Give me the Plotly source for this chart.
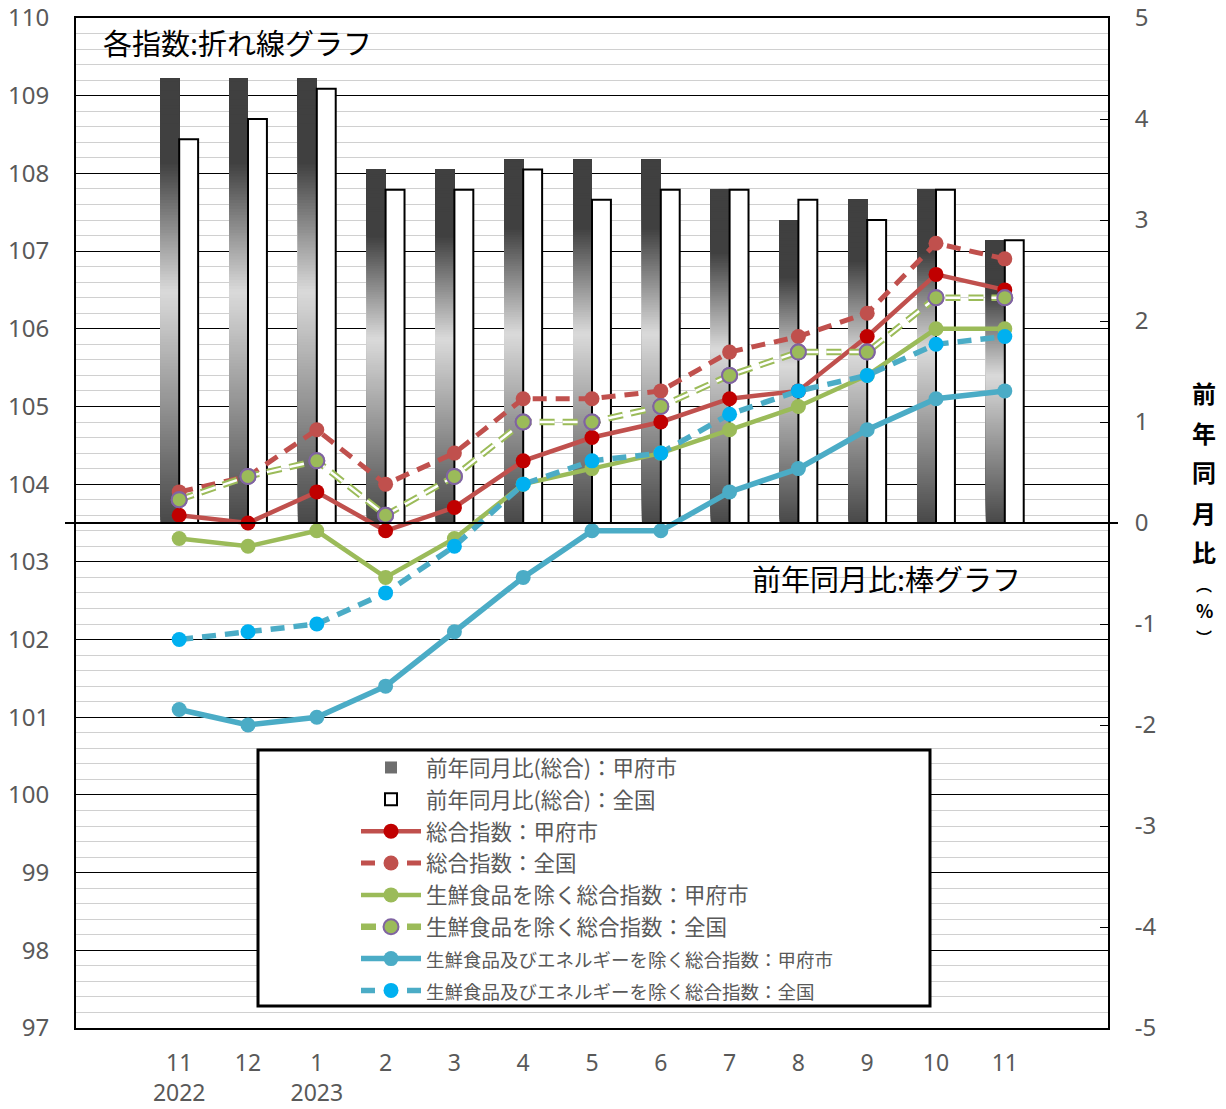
import plotly.graph_objects as go

# ---------------- data ----------------
months = ["11", "12", "1", "2", "3", "4", "5", "6", "7", "8", "9", "10", "11"]
years = ["2022", "", "2023", "", "", "", "", "", "", "", "", "", ""]

kofu_yoy = [4.4, 4.4, 4.4, 3.5, 3.5, 3.6, 3.6, 3.6, 3.3, 3.0, 3.2, 3.3, 2.8]
national_yoy = [3.8, 4.0, 4.3, 3.3, 3.3, 3.5, 3.2, 3.3, 3.3, 3.2, 3.0, 3.3, 2.8]

total_kofu = [103.6, 103.5, 103.9, 103.4, 103.7, 104.3, 104.6, 104.8, 105.1, 105.2, 105.9, 106.7, 106.5]
total_nat = [103.9, 104.1, 104.7, 104.0, 104.4, 105.1, 105.1, 105.2, 105.7, 105.9, 106.2, 107.1, 106.9]
exfresh_kofu = [103.3, 103.2, 103.4, 102.8, 103.3, 104.0, 104.2, 104.4, 104.7, 105.0, 105.4, 106.0, 106.0]
exfresh_nat = [103.8, 104.1, 104.3, 103.6, 104.1, 104.8, 104.8, 105.0, 105.4, 105.7, 105.7, 106.4, 106.4]
exfe_kofu = [101.1, 100.9, 101.0, 101.4, 102.1, 102.8, 103.4, 103.4, 103.9, 104.2, 104.7, 105.1, 105.2]
exfe_nat = [102.0, 102.1, 102.2, 102.6, 103.2, 104.0, 104.3, 104.4, 104.9, 105.2, 105.4, 105.8, 105.9]

right_ticks = [-5, -4, -3, -2, -1, 0, 1, 2, 3, 4, 5]
right_ticktext = ["-5", "-4", "-3", "-2", "-1", "0", "1", "2", "3", "4", "5"]

names = [
    "前年同月比(総合)：甲府市",
    "前年同月比(総合)：全国",
    "総合指数：甲府市",
    "総合指数：全国",
    "生鮮食品を除く総合指数：甲府市",
    "生鮮食品を除く総合指数：全国",
    "<span style='font-size:18.5px'>生鮮食品及びエネルギーを除く総合指数：甲府市</span>",
    "<span style='font-size:18.5px'>生鮮食品及びエネルギーを除く総合指数：全国</span>",
]
right_title_chars = ["前", "年", "同", "月", "比", "︵", "%", "︶"]

# ---------------- figure ----------------
x = list(range(len(months)))
ticktext = [m + ("<br>" + y if y else "") for m, y in zip(months, years)]

JP = "Noto Sans CJK JP"
NUM = "Noto Sans"
GRAY = "#595959"

fig = go.Figure()

# gradient bars (Kofu) built from overlapping bar segments
N = 150
def shade(t):
    # t: 0 bottom -> 1 top
    pts = [(0.0, 72), (0.52, 218), (0.81, 64), (1.0, 64)]
    for (t0, c0), (t1, c1) in zip(pts[:-1], pts[1:]):
        if t0 <= t <= t1:
            c = c0 + (c1 - c0) * (t - t0) / (t1 - t0)
            return int(round(c))
    return 64

bw = 0.275
for i in range(N):
    t = (i + 0.5) / N
    c = shade(t)
    fig.add_trace(go.Bar(
        x=x, y=[v * (1 - i / N) for v in kofu_yoy], base=[v * i / N for v in kofu_yoy],
        width=bw, offset=-bw, yaxis="y",
        marker=dict(color=f"rgb({c},{c},{c})", line=dict(width=0)),
        name=names[0], showlegend=(i == 20), legendgroup="g0", legendrank=1,
        hoverinfo="skip",
    ))

fig.add_trace(go.Bar(
    x=x, y=national_yoy, width=bw, offset=0, yaxis="y",
    marker=dict(color="white", line=dict(color="black", width=2)),
    name=names[1], legendgroup="g1", legendrank=2,
))

def add_line(yv, name, lcolor, lwidth, dash, mcolor, mline=None, rank=0, grp=""):
    fig.add_trace(go.Scatter(
        x=x, y=yv, yaxis="y2", mode="lines+markers", name=name,
        line=dict(color=lcolor, width=lwidth, dash=dash),
        marker=dict(color=mcolor, size=15,
                    line=dict(color=mline or mcolor, width=2 if mline else 0)),
        legendgroup=grp, legendrank=rank,
    ))

add_line(total_kofu, names[2], "#c0504d", 4.5, "solid", "#c00000", rank=3, grp="g2")
add_line(total_nat, names[3], "#c0504d", 5, "14px,9px", "#c0504d", rank=4, grp="g3")
add_line(exfresh_kofu, names[4], "#9bbb59", 4.5, "solid", "#9bbb59", rank=5, grp="g4")

# hollow dashed green line (outer + inner white)
fig.add_trace(go.Scatter(
    x=x, y=exfresh_nat, yaxis="y2", mode="lines+markers", name=names[5],
    line=dict(color="#9bbb59", width=6.5, dash="15px,8px"),
    marker=dict(color="#9bbb59", size=15, line=dict(color="#8064a2", width=2)),
    legendgroup="g5", legendrank=6,
))
fig.add_trace(go.Scatter(
    x=x, y=exfresh_nat, yaxis="y2", mode="lines", showlegend=False,
    line=dict(color="white", width=2.5, dash="15px,8px"), hoverinfo="skip",
    legendgroup="g5",
))
fig.add_trace(go.Scatter(
    x=x, y=exfresh_nat, yaxis="y2", mode="markers", showlegend=False,
    marker=dict(color="#9bbb59", size=15, line=dict(color="#8064a2", width=2)),
    hoverinfo="skip", legendgroup="g5",
))

add_line(exfe_kofu, names[6], "#4bacc6", 5.5, "solid", "#4bacc6", rank=7, grp="g6")
add_line(exfe_nat, names[7], "#4bacc6", 5.5, "14px,9px", "#00b0f0", rank=8, grp="g7")

# ---------------- layout ----------------
# page body has an 8px margin, so the figure is drawn at (8, 8)
OFF = 8
W, H = 1226 - OFF, 1109 - OFF
px0, px1, py0, py1 = 76, 1108, 18, 1028   # plot area in window pixels
def pxx(v):
    return (v - px0) / (px1 - px0)
def pyy(v):
    return (py1 - v) / (py1 - py0)

annotations = [
    dict(text="各指数:折れ線グラフ", xref="paper", yref="paper",
         x=pxx(101), y=pyy(42), xanchor="left", yanchor="middle",
         showarrow=False, font=dict(family=JP, size=29, color="black")),
    dict(text="前年同月比:棒グラフ", xref="paper", yref="paper",
         x=pxx(750), y=pyy(578), xanchor="left", yanchor="middle",
         showarrow=False, font=dict(family=JP, size=29, color="black")),
]
title_y = [392, 432, 472, 512, 551, 584, 610, 637]
title_size = [24, 24, 24, 24, 24, 16, 18, 16]
for ch, yy, sz in zip(right_title_chars, title_y, title_size):
    annotations.append(dict(
        text=f"<b>{ch}</b>", xref="paper", yref="paper",
        x=pxx(1204), y=pyy(yy), xanchor="center", yanchor="middle",
        showarrow=False, font=dict(family=JP, size=sz, color="black")))

fig.update_layout(
    width=W, height=H,
    margin=dict(l=px0 - OFF, r=W - (px1 - OFF), t=py0 - OFF, b=H - (py1 - OFF), autoexpand=False),
    paper_bgcolor="white", plot_bgcolor="white",
    barmode="overlay",
    showlegend=True,
    xaxis=dict(
        range=[-1.5, 13.5], tickvals=x, ticktext=ticktext, automargin=False,
        tickfont=dict(family=NUM, size=23, color=GRAY),
        showgrid=False, zeroline=False, showline=True, linecolor="black",
        linewidth=2, mirror=True, ticks="", ticklabelstandoff=13,
    ),
    yaxis=dict(
        side="right", range=[-5, 5], tickvals=right_ticks, ticktext=right_ticktext,
        showgrid=False, zeroline=False, automargin=False, ticklabeloverflow="allow",
        ticks="inside", ticklen=8, tickcolor="black", tickwidth=1,
        tickfont=dict(family=NUM, size=24, color=GRAY),
        showline=True, linecolor="black", linewidth=2, ticklabelstandoff=20,
    ),
    yaxis2=dict(
        side="left", overlaying="y", range=[97, 110], dtick=1, automargin=False,
        ticklabeloverflow="allow",
        showgrid=True, gridcolor="black", gridwidth=1, zeroline=False,
        minor=dict(dtick=0.2, showgrid=True, gridcolor="#d0d0d0", gridwidth=1.2),
        tickfont=dict(family=NUM, size=24, color=GRAY),
        showline=True, linecolor="black", linewidth=2, ticks="",
        ticklabelstandoff=20,
    ),
    legend=dict(
        x=pxx(356), y=pyy(747), xanchor="left", yanchor="top",
        bgcolor="rgba(0,0,0,0)", borderwidth=0,
        font=dict(family=JP, size=21.5, color=GRAY),
        traceorder="grouped", tracegroupgap=0.9, itemwidth=60,
    ),
    shapes=[
        dict(type="rect", xref="paper", yref="paper",
             x0=pxx(258), x1=pxx(930), y0=pyy(1006), y1=pyy(750),
             fillcolor="white", line=dict(color="black", width=3), layer="above"),
        dict(type="line", xref="paper", yref="y", x0=pxx(65), x1=pxx(1118),
             y0=0, y1=0, line=dict(color="black", width=2), layer="above"),
    ],
    annotations=annotations,
)

fig.write_html("out.html")
